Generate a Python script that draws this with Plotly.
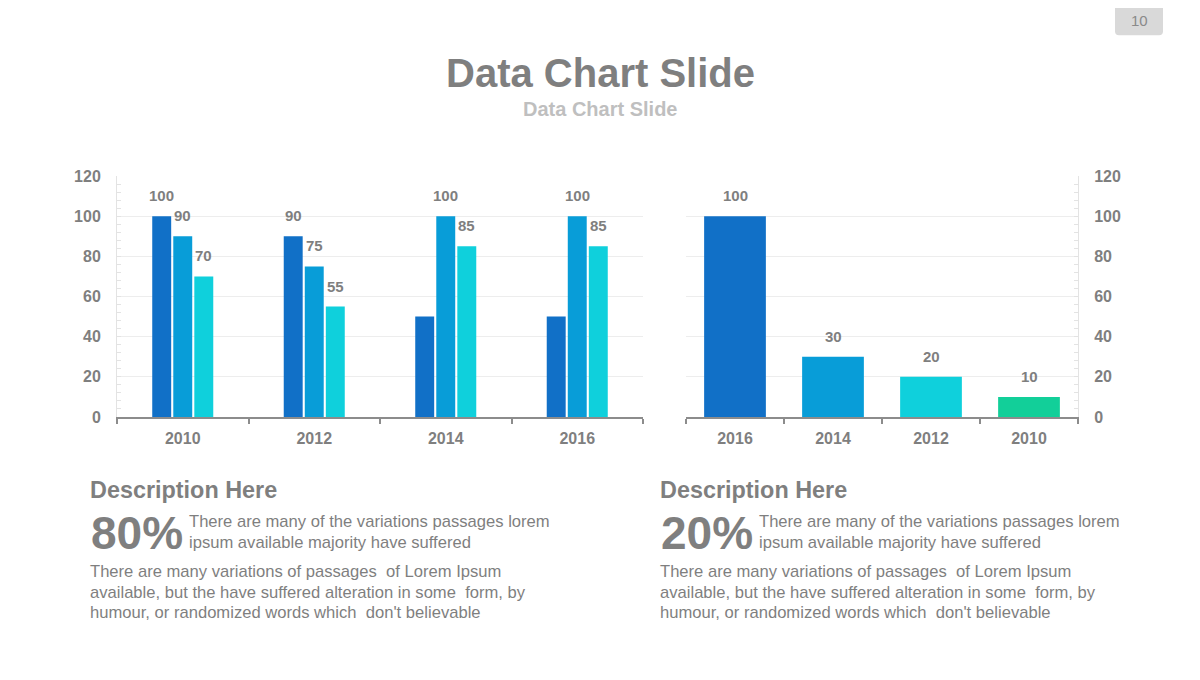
import plotly.graph_objects as go

# ---------------- data ----------------
left_years = ["2010", "2012", "2014", "2016"]
series_a = [100, 90, 50, 50]
series_b = [90, 75, 100, 100]
series_c = [70, 55, 85, 85]
labels_a = ["100", "90", None, None]
labels_b = ["90", "75", "100", "100"]
labels_c = ["70", "55", "85", "85"]

right_years = ["2016", "2014", "2012", "2010"]
right_values = [100, 30, 20, 10]
right_labels = ["100", "30", "20", "10"]

y_ticks = [0, 20, 40, 60, 80, 100, 120]

title = "Data Chart Slide"
subtitle = "Data Chart Slide"
page_no = "10"
desc_title = "Description Here"
pct_left = "80%"
pct_right = "20%"
short_lines = ["There are many of the variations passages lorem",
               "ipsum available majority have suffered"]
long_lines = ["There are many variations of passages  of Lorem Ipsum",
              "available, but the have suffered alteration in some  form, by",
              "humour, or randomized words which  don't believable"]

# ---------------- style ----------------
C1, C2, C3, C4 = "#1170c7", "#089dd8", "#0fd0dc", "#12cf99"
GRAY = "#7f7f7f"
LIGHT = "#bfbfbf"
FONT = "Liberation Sans, Arial, sans-serif"
W, H = 1200, 680
Y0, YS = 7.8, 0.9756          # vertical placement of the page in the photograph

def px_x(v):
    return v / W

def px_y(v):
    return 1 - ((v - Y0) / YS) / H

fig = go.Figure()

series = [(series_a, labels_a, C1), (series_b, labels_b, C2), (series_c, labels_c, C3)]
for vals, labs, col in series:
    fig.add_trace(go.Bar(x=left_years, y=vals, marker_color=col, marker_line_width=0,
                         xaxis="x", yaxis="y", showlegend=False, hoverinfo="skip"))

fig.add_trace(go.Bar(x=right_years, y=right_values, marker_color=[C1, C2, C3, C4],
                     marker_line_width=0, width=0.63, xaxis="x2", yaxis="y2",
                     showlegend=False, hoverinfo="skip"))

bargap = 0.52
slot = (1 - bargap) / 3
annotations = []
lab_font = dict(family=FONT, size=15, color=GRAY, weight="bold")
LSHIFT = 20 / YS
for k, (vals, labs, col) in enumerate(series):
    for i, (v, lab) in enumerate(zip(vals, labs)):
        if lab is None:
            continue
        annotations.append(dict(x=i + (k - 1) * slot, y=v, xref="x", yref="y", text=lab,
                                showarrow=False, yanchor="middle", yshift=LSHIFT, font=lab_font))
for i, (v, lab) in enumerate(zip(right_values, right_labels)):
    annotations.append(dict(x=i, y=v, xref="x2", yref="y2", text=lab,
                            showarrow=False, yanchor="middle", yshift=LSHIFT, font=lab_font))

def txt(x, y, text, size, color, bold=False, anchor="left", yanchor="middle"):
    annotations.append(dict(x=px_x(x), y=px_y(y), xref="paper", yref="paper", text=text,
                            showarrow=False, xanchor=anchor, yanchor=yanchor, align="left",
                            font=dict(family=FONT, size=size, color=color,
                                      weight="bold" if bold else "normal")))

txt(600, 73, title, 40, GRAY, True, "center")
txt(600, 109, subtitle, 20, LIGHT, True, "center")
txt(1139, 20, page_no, 15, "#8a8a8a", False, "center")

for x0, pct in [(88, pct_left), (658, pct_right)]:
    txt(x0, 490, desc_title, 23.4, GRAY, True)
    txt(x0 + 1, 533, pct, 46, GRAY, True)
    for j, line in enumerate(short_lines):
        txt(x0 + 99, 522 + 21 * j, line, 16.6, GRAY)
    for j, line in enumerate(long_lines):
        txt(x0 + 0, 572 + 20.5 * j, line, 16.6, GRAY)

axis_common = dict(
    range=[0, 120], tickvals=y_ticks, showgrid=True, gridcolor="#ededed", gridwidth=1,
    zeroline=False, showline=True, linecolor="#e3e3e3", linewidth=1,
    ticks="inside", ticklen=4, tickcolor="#e3e3e3",
    minor=dict(ticks="inside", ticklen=4, tickcolor="#e3e3e3", dtick=4, showgrid=False),
    tickfont=dict(family=FONT, size=16, color=GRAY, weight="bold"), fixedrange=True,
)
xaxis_common = dict(
    type="category", showline=True, linecolor="#8c8c8c", linewidth=2,
    ticks="outside", ticklen=5, tickcolor="#8c8c8c", tickwidth=1.5, tickson="boundaries",
    ticklabelstandoff=6,
    showgrid=False, tickfont=dict(family=FONT, size=16, color=GRAY, weight="bold"),
    fixedrange=True,
)

fig.update_layout(
    width=W, height=H, margin=dict(l=0, r=0, t=0, b=0),
    paper_bgcolor="white", plot_bgcolor="white",
    barmode="group", bargap=bargap, bargroupgap=0.1,
    xaxis=dict(domain=[px_x(117), px_x(643)], anchor="y", **xaxis_common),
    yaxis=dict(domain=[px_y(417), px_y(176)], anchor="x", side="left",
               ticklabelstandoff=12, **axis_common),
    xaxis2=dict(domain=[px_x(686), px_x(1078)], anchor="y2", **xaxis_common),
    yaxis2=dict(domain=[px_y(417), px_y(176)], anchor="x2", side="right",
                ticklabelstandoff=12, **axis_common),
    annotations=annotations,
    shapes=[dict(type="path", xref="paper", yref="paper",
                 path=(f"M {px_x(1115)} 1 L {px_x(1115)} {px_y(31)} "
                       f"Q {px_x(1115)} {px_y(35)} {px_x(1119)} {px_y(35)} "
                       f"L {px_x(1159)} {px_y(35)} Q {px_x(1163)} {px_y(35)} {px_x(1163)} {px_y(31)} "
                       f"L {px_x(1163)} 1 Z"),
                 fillcolor="#d9d9d9", line=dict(width=0), layer="below")],
)

fig.write_html("out.html", config={"displayModeBar": False})
